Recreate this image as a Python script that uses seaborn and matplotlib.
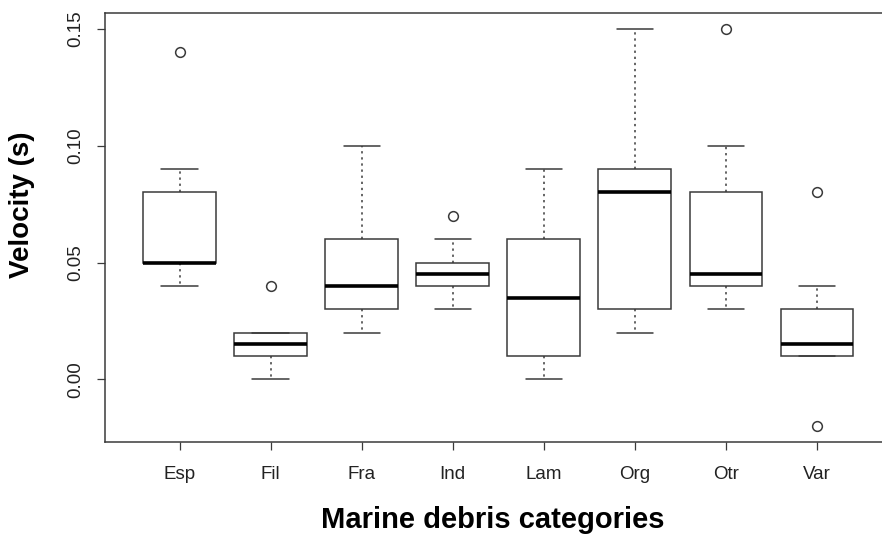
import matplotlib
matplotlib.use('Agg')
import matplotlib.pyplot as plt
import seaborn as sns
import pandas as pd

# categories on the x axis
categories = ['Esp', 'Fil', 'Fra', 'Ind', 'Lam', 'Org', 'Otr', 'Var']

# velocity observations per category (estimated from the box stats in the picture)
esp = [0.04, 0.05, 0.05, 0.05, 0.05, 0.06, 0.08, 0.09, 0.14]
fil = [0.00, 0.01, 0.01, 0.01, 0.015, 0.02, 0.02, 0.02, 0.04]
fra = [0.02, 0.03, 0.03, 0.035, 0.04, 0.05, 0.06, 0.08, 0.10]
ind = [0.03, 0.04, 0.04, 0.04, 0.045, 0.05, 0.05, 0.06, 0.07]
lam = [0.00, 0.01, 0.01, 0.02, 0.035, 0.05, 0.06, 0.07, 0.09]
org = [0.02, 0.03, 0.03, 0.05, 0.08, 0.08, 0.09, 0.12, 0.15]
otr = [0.03, 0.04, 0.04, 0.04, 0.045, 0.06, 0.08, 0.10, 0.15]
var = [-0.02, 0.01, 0.01, 0.01, 0.015, 0.015, 0.03, 0.03, 0.04, 0.08]

yticks = [0.00, 0.05, 0.10, 0.15]
ytick_labels = ['0.00', '0.05', '0.10', '0.15']

groups = [esp, fil, fra, ind, lam, org, otr, var]
df = pd.DataFrame({
    'category': [c for c, g in zip(categories, groups) for _ in g],
    'velocity': [v for g in groups for v in g],
})

sns.set_theme(style='white')
plt.rcParams['font.family'] = ['Liberation Sans', 'DejaVu Sans']

line = '#3a3a3a'
fig = plt.figure(figsize=(8.82, 5.36), dpi=100)
ax = fig.add_axes([0.119, 0.1754, 0.892, 0.8003])

sns.boxplot(
    ax=ax, data=df, x='category', y='velocity', order=categories,
    color='white', linecolor=line, linewidth=1.1, width=0.8, whis=1.5,
    fliersize=7,
    flierprops=dict(marker='o', markerfacecolor='none', markeredgecolor=line,
                    markeredgewidth=1.1),
    whiskerprops=dict(linestyle=(0, (1.5, 2.5)), color=line),
    medianprops=dict(linewidth=2.6, color='black'),
    capprops=dict(color=line),
)

# R style stapled caps, half of the box width
for ln in ax.lines:
    xd = ln.get_xdata()
    yd = ln.get_ydata()
    if len(xd) == 2 and yd[0] == yd[1] and xd[0] != xd[1] and ln.get_linewidth() < 2:
        mid = (xd[0] + xd[1]) / 2
        half = abs(xd[1] - xd[0]) / 2
        if half < 0.3:
            ln.set_xdata([mid - 0.2, mid + 0.2])

ax.set_xlim(-0.82, 7.82)
ax.set_ylim(-0.0268, 0.1568)
ax.set_yticks(yticks)
ax.set_yticklabels(ytick_labels, rotation=90, va='center')

for s in ax.spines.values():
    s.set_visible(True)
    s.set_color(line)
    s.set_linewidth(1.1)

ax.tick_params(axis='both', which='both', direction='out', length=6,
               width=0.9, color=line, labelsize=13.5, labelcolor='#222222',
               left=True, bottom=True)
ax.tick_params(axis='y', pad=9)
ax.tick_params(axis='x', pad=11)

ax.set_xlabel('Marine debris categories', fontsize=21, fontweight='bold',
              color='black')
ax.set_ylabel('Velocity (s)', fontsize=20, fontweight='bold', color='black')
ax.xaxis.set_label_coords(0.493, -0.183)
ax.yaxis.set_label_coords(-0.105, 0.552)
ax.xaxis.label.set_va('center')
ax.yaxis.label.set_va('center')

fig.savefig('out.png', dpi=100, facecolor='white')
